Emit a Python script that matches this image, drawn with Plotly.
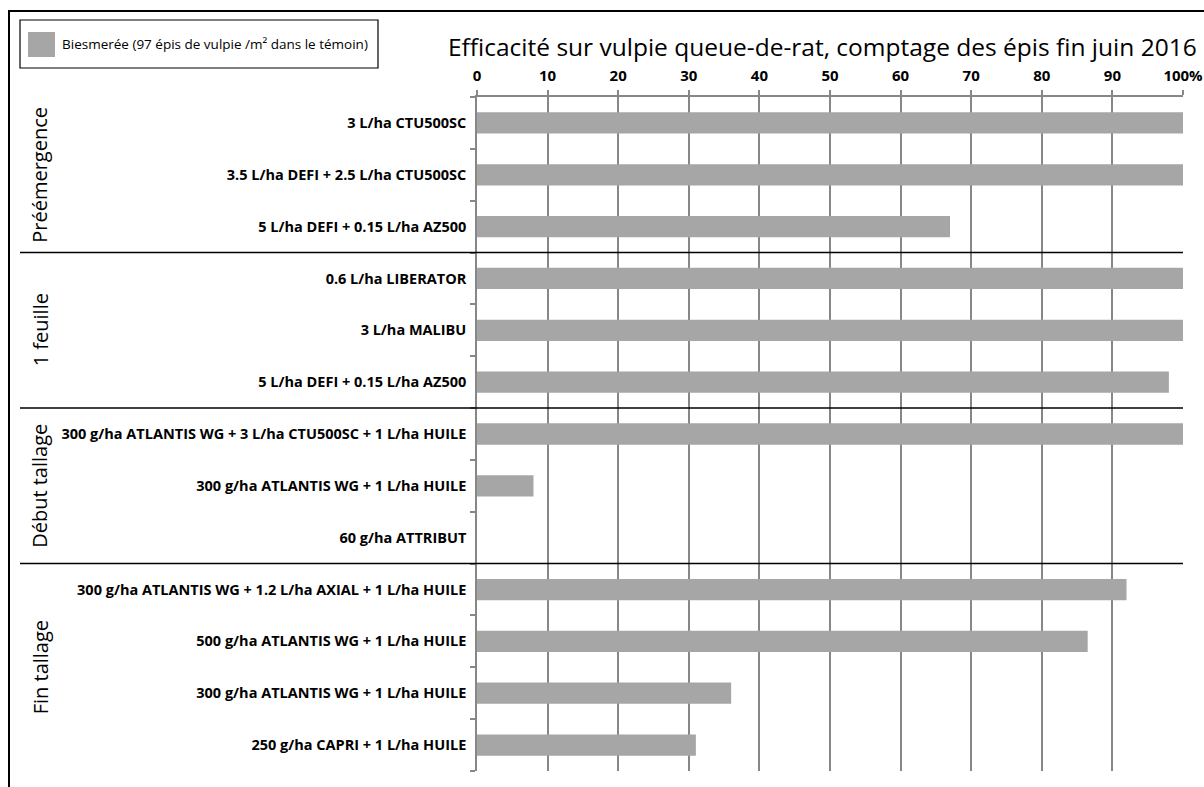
import plotly.graph_objects as go

# ---- data ----
treatments = [
    "3 L/ha CTU500SC",
    "3.5 L/ha DEFI + 2.5 L/ha CTU500SC",
    "5 L/ha DEFI + 0.15 L/ha AZ500",
    "0.6 L/ha LIBERATOR",
    "3 L/ha MALIBU",
    "5 L/ha DEFI + 0.15 L/ha AZ500",
    "300 g/ha ATLANTIS WG + 3 L/ha CTU500SC + 1 L/ha HUILE",
    "300 g/ha ATLANTIS WG + 1 L/ha HUILE",
    "60 g/ha ATTRIBUT",
    "300 g/ha ATLANTIS WG + 1.2 L/ha AXIAL + 1 L/ha HUILE",
    "500 g/ha ATLANTIS WG + 1 L/ha HUILE",
    "300 g/ha ATLANTIS WG + 1 L/ha HUILE",
    "250 g/ha CAPRI + 1 L/ha HUILE",
]
efficacite = [100, 100, 67, 100, 100, 98, 100, 8, 0, 92, 86.5, 36, 31]
group_names = ["Préémergence", "1 feuille", "Début tallage", "Fin tallage"]
group_sizes = [3, 3, 3, 4]
x_ticks = [0, 10, 20, 30, 40, 50, 60, 70, 80, 90, 100]
x_ticklabels = ["0", "10", "20", "30", "40", "50", "60", "70", "80", "90", "100%"]
series_name = "Biesmerée (97 épis de vulpie /m² dans le témoin)"
title_text = "Efficacité sur vulpie queue-de-rat, comptage des épis fin juin 2016"

FONT = "Open Sans"
BAR = "#A6A6A6"
GRID = "#878787"

W, H = 1204, 787
ML, MR, MT, MB = 477, 21, 97, 16
pw, ph = W - ML - MR, H - MT - MB

def px_x(px):
    return (px - ML) / pw

def px_y(py):
    return 1 - (py - MT) / ph

pos = list(range(len(treatments)))

fig = go.Figure()
fig.add_trace(go.Bar(
    x=efficacite, y=pos, orientation="h", name=series_name,
    marker=dict(color=BAR, line=dict(width=0)),
    width=0.41, showlegend=False, hoverinfo="x+y",
))

shapes = []
annotations = []

# group separators and group labels
start = 0
for i, (g, n) in enumerate(zip(group_names, group_sizes)):
    mid = start + (n - 1) / 2
    annotations.append(dict(
        text=g, textangle=-90, xref="paper", yref="y", x=px_x(40), y=mid,
        xanchor="center", yanchor="middle", showarrow=False,
        font=dict(family=FONT, size=20, color="black"),
    ))
    start += n
    if i < len(group_names) - 1:
        shapes.append(dict(
            type="line", xref="paper", yref="y", x0=px_x(20), x1=1,
            y0=start - 0.5, y1=start - 0.5,
            line=dict(color="black", width=1.5), layer="above",
        ))

# outer frame
shapes.append(dict(type="rect", xref="paper", yref="paper",
                   x0=px_x(9), x1=px_x(1230), y0=px_y(11), y1=px_y(800),
                   line=dict(color="black", width=2), fillcolor="rgba(0,0,0,0)"))
# legend box (manual)
shapes.append(dict(type="rect", xref="paper", yref="paper",
                   x0=px_x(20), x1=px_x(378), y0=px_y(20), y1=px_y(68),
                   line=dict(color="black", width=1.2), fillcolor="white"))
shapes.append(dict(type="rect", xref="paper", yref="paper",
                   x0=px_x(28), x1=px_x(55), y0=px_y(32), y1=px_y(57),
                   line=dict(width=0), fillcolor=BAR))
annotations.append(dict(
    text=series_name, xref="paper", yref="paper", x=px_x(60), y=px_y(44),
    xanchor="left", yanchor="middle", showarrow=False,
    font=dict(family=FONT, size=13.5, color="black"),
))
# title
annotations.append(dict(
    text=title_text, xref="paper", yref="paper", x=px_x(1199), y=px_y(47),
    xanchor="right", yanchor="middle", showarrow=False,
    font=dict(family=FONT, size=24.5, color="black"),
))

fig.update_layout(
    width=W, height=H, autosize=False,
    margin=dict(l=ML, r=MR, t=MT, b=MB, autoexpand=False),
    paper_bgcolor="white", plot_bgcolor="white",
    shapes=shapes, annotations=annotations,
    bargap=0.6,
    font=dict(family=FONT, color="black"),
)
fig.update_xaxes(
    side="top", range=[0, 100], tickvals=x_ticks, ticktext=x_ticklabels,
    showgrid=True, gridcolor=GRID, gridwidth=1.6,
    ticks="outside", ticklen=5, tickcolor=GRID, tickwidth=1.5,
    showline=True, linecolor=GRID, linewidth=1.5, zeroline=False,
    tickfont=dict(family=FONT, size=15, color="black", weight="bold"),
    ticklabelstandoff=3, automargin=False,
)
fig.update_yaxes(
    range=[len(treatments) - 0.5, -0.5], tickvals=pos, ticktext=treatments,
    ticks="", showgrid=False, zeroline=False,
    showline=True, linecolor=GRID, linewidth=1.6,
    minor=dict(tickvals=[p - 0.5 for p in pos] + [len(pos) - 0.5],
               ticks="outside", ticklen=5, tickcolor=GRID, tickwidth=1.5, showgrid=False),
    tickfont=dict(family=FONT, size=14.5, color="black", weight="bold"),
    ticklabelstandoff=6, automargin=False,
)

fig.write_html(
    "out.html",
    config={"displayModeBar": False},
    post_script="document.body.style.margin='0';document.body.style.overflow='hidden';",
)
